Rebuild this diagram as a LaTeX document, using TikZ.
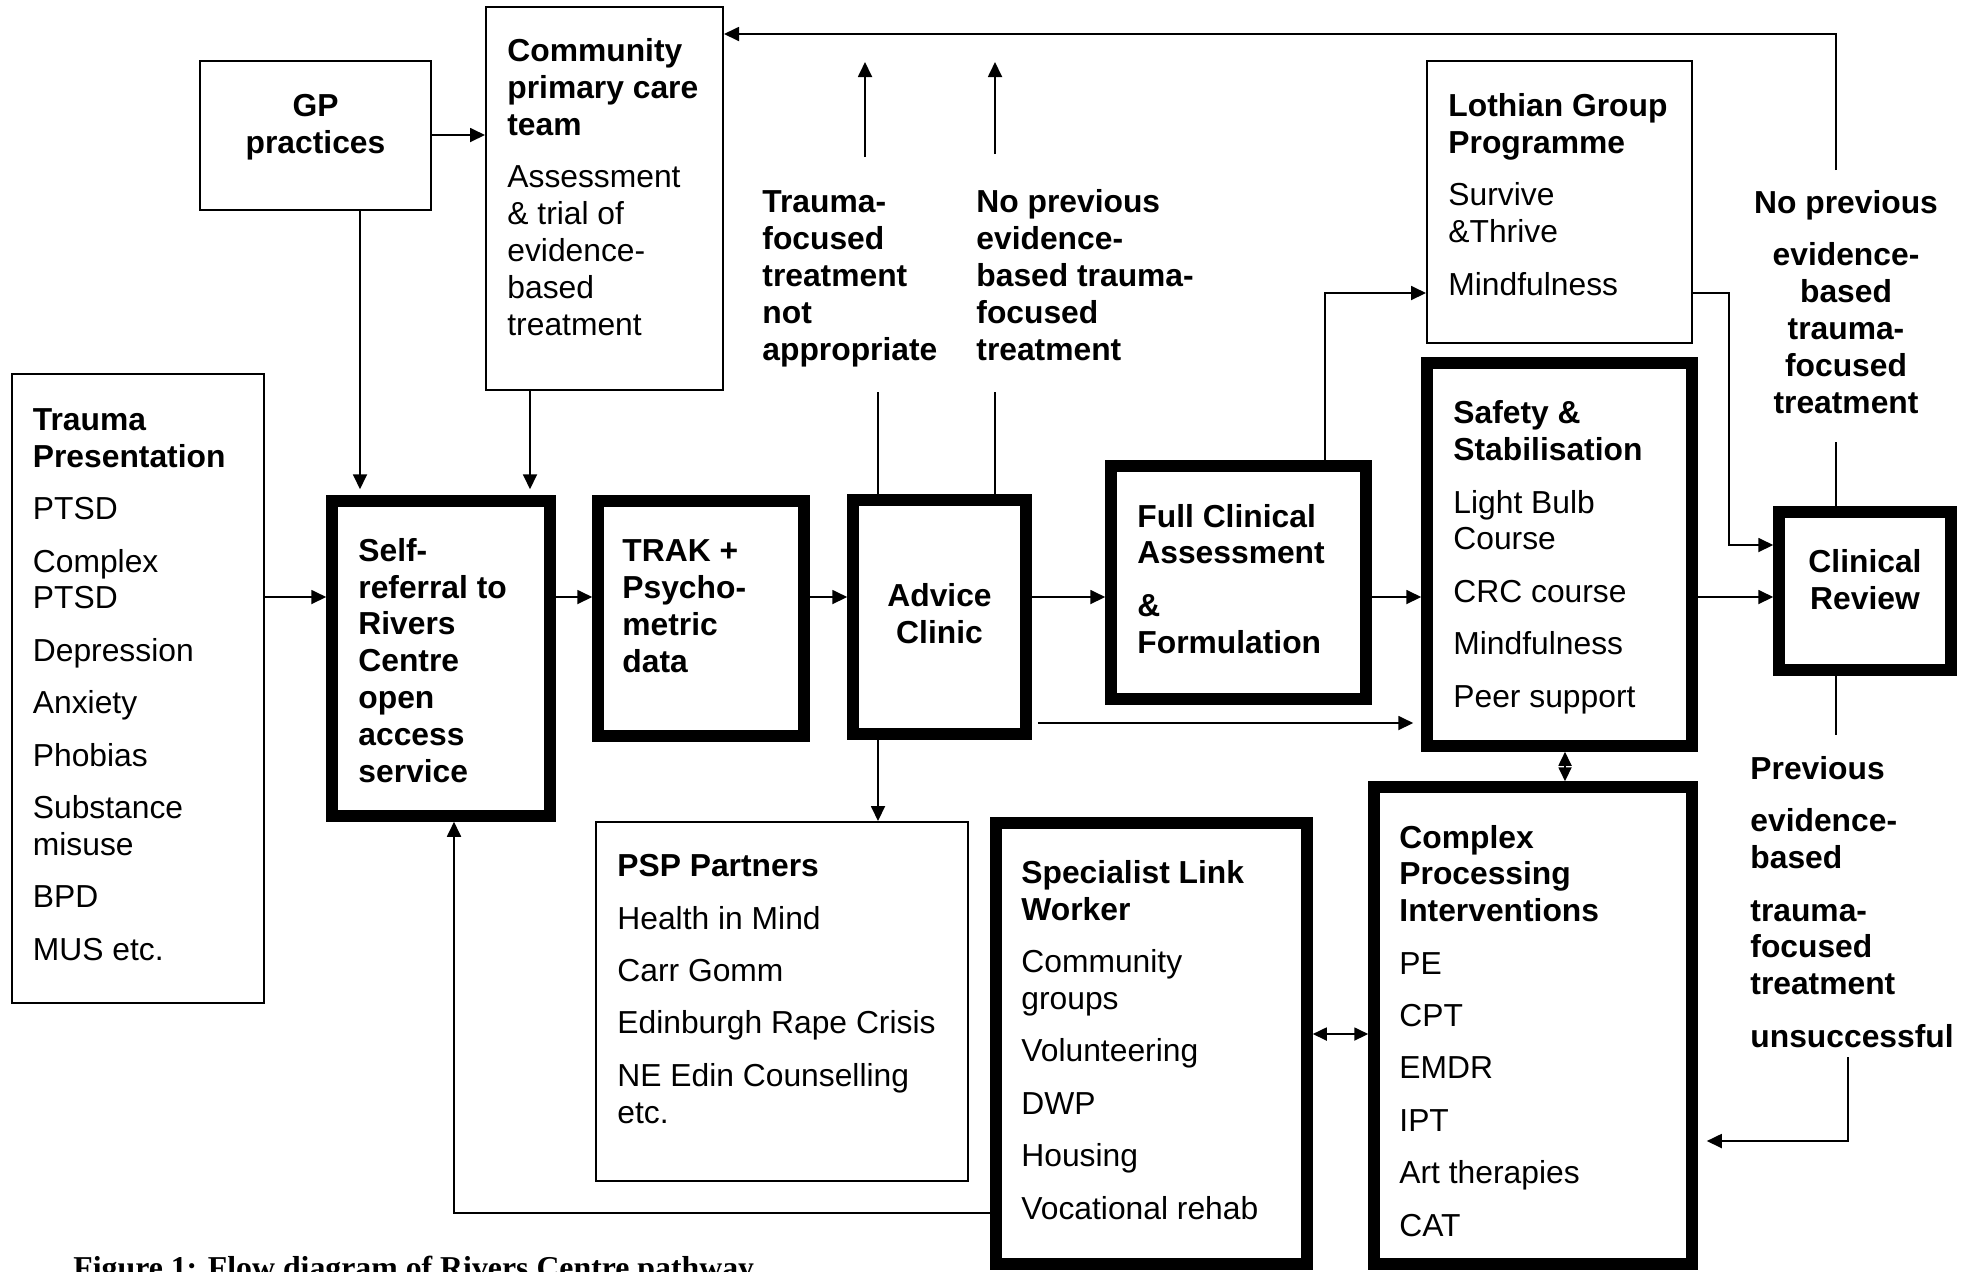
\documentclass[tikz,border=0pt]{standalone}
\usepackage{fontspec}
\setmainfont{Liberation Sans}
\newfontfamily\capfont{Liberation Serif}
\usetikzlibrary{arrows.meta, fit}

\tikzset{
  thinbox/.style={draw, line width=1pt, inner sep=0pt},
  thickbox/.style={draw, line width=5.75pt, inner sep=0pt, outer sep=2.875pt},
  % texts sit on the baseline of their last line
  txt/.style={inner sep=0pt, anchor=base west, align=left,
    font=\fontsize{15.9}{18.4}\selectfont},
  btxt/.style={txt, font=\fontsize{15.9}{18.4}\selectfont\bfseries},
  bctxt/.style={btxt, anchor=base, align=center},
  conn/.style={line width=0.9pt},
  arr/.style={conn, -{Triangle[length=7.5pt, width=7pt]}},
  dblarr/.style={conn, {Triangle[length=7pt, width=6.5pt]}-{Triangle[length=7pt, width=6.5pt]}},
}

\begin{document}
\begin{tikzpicture}[x=0.5pt, y=-0.5pt]
  \useasboundingbox (0,0) rectangle (1969,1271);
  \clip (0,0) rectangle (1969,1271);

  % plain boxes
  \node[thinbox, fit={(11.5,374) (264,1003)}] (trauma) {};
  \node[thinbox, fit={(200,61) (431,210)}] (gp) {};
  \node[thinbox, fit={(486,7) (723,390)}] (cpt) {};
  \node[thinbox, fit={(1427,61) (1692,343)}] (lothian) {};
  \node[thinbox, fit={(596,822) (968,1181)}] (psp) {};
  % heavy boxes (Rivers Centre services)
  \node[thickbox, fit={(332,501) (550,816)}] (self) {};
  \node[thickbox, fit={(598,501) (804,736)}] (trak) {};
  \node[thickbox, fit={(853,500) (1026,734)}] (advice) {};
  \node[thickbox, fit={(1111,466) (1366,699)}] (full) {};
  \node[thickbox, fit={(1427,363) (1692,746)}] (safety) {};
  \node[thickbox, fit={(1779,512) (1951,670)}] (review) {};
  \node[thickbox, fit={(996,823) (1307,1264)}] (slw) {};
  \node[thickbox, fit={(1374,787) (1692,1264)}] (cpi) {};

  % box texts
  \node[txt] (traumatxt) at (32.5,960) {\textbf{Trauma}\\\textbf{Presentation}\\[7.8pt]PTSD\\[7.8pt]Complex\\PTSD\\[7.8pt]Depression\\[7.8pt]Anxiety\\[7.8pt]Phobias\\[7.8pt]Substance\\misuse\\[7.8pt]BPD\\[7.8pt]MUS etc.};
  \node[bctxt] (gptxt) at (315.5,153) {GP\\practices};
  \node[txt] (cpttxt) at (507,335) {\textbf{Community}\\\textbf{primary care}\\\textbf{team}\\[7.8pt]Assessment\\\& trial of\\evidence-\\based\\treatment};
  \node[btxt] (selftxt) at (358,782) {Self-\\referral to\\Rivers\\Centre\\open\\access\\service};
  \node[btxt] (traktxt) at (622,672) {TRAK +\\Psycho-\\metric\\data};
  \node[bctxt] (advicetxt) at (939.5,643) {Advice\\Clinic};
  \node[btxt] (fulltxt) at (1137,653) {Full Clinical\\Assessment\\[7.8pt]\&\\Formulation};
  \node[txt] (lothiantxt) at (1448,295) {\textbf{Lothian Group}\\\textbf{Programme}\\[7.8pt]Survive\\\&Thrive\\[7.8pt]Mindfulness};
  \node[txt] (safetytxt) at (1453,707) {\textbf{Safety \&}\\\textbf{Stabilisation}\\[7.8pt]Light Bulb\\Course\\[7.8pt]CRC course\\[7.8pt]Mindfulness\\[7.8pt]Peer support};
  \node[bctxt] (reviewtxt) at (1865,609) {Clinical\\Review};
  \node[txt] (psptxt) at (617,1123) {\textbf{PSP Partners}\\[7.8pt]Health in Mind\\[7.8pt]Carr Gomm\\[7.8pt]Edinburgh Rape Crisis\\[7.8pt]NE Edin Counselling\\etc.};
  \node[txt] (slwtxt) at (1021,1219) {\textbf{Specialist Link}\\\textbf{Worker}\\[7.8pt]Community\\groups\\[7.8pt]Volunteering\\[7.8pt]DWP\\[7.8pt]Housing\\[7.8pt]Vocational rehab};
  \node[txt] (cpitxt) at (1399,1236) {\textbf{Complex}\\\textbf{Processing}\\\textbf{Interventions}\\[7.8pt]PE\\[7.8pt]CPT\\[7.8pt]EMDR\\[7.8pt]IPT\\[7.8pt]Art therapies\\[7.8pt]CAT};

  % pathway conditions
  \node[btxt] (notapp) at (762,360) {Trauma-\\focused\\treatment\\not\\appropriate};
  \node[btxt] (noprev) at (976,360) {No previous\\evidence-\\based trauma-\\focused\\treatment};
  \node[bctxt] (noprevr) at (1846,413) {No previous\\[7.8pt]evidence-\\based\\trauma-\\focused\\treatment};
  \node[btxt] (prevfail) at (1750,1047) {Previous\\[7.8pt]evidence-\\based\\[7.8pt]trauma-\\focused\\treatment\\[7.8pt]unsuccessful};

  % caption, cut by the page edge
  \node[font=\capfont\bfseries\fontsize{15.9}{18}\selectfont, anchor=base west, inner sep=0pt]
    (caption) at (73,1278) {Figure 1: Flow diagram of Rivers Centre pathway};

  % rows and columns of the connectors
  \coordinate (mainrow) at (0,597);
  \coordinate (gprow) at (0,135);
  \coordinate (lowrow) at (0,723);
  \coordinate (lgrow) at (0,293);
  \coordinate (rvrow) at (0,545);
  \coordinate (toprow) at (0,34);
  \coordinate (backrow) at (0,1141);
  \coordinate (slrow) at (0,1034);
  \coordinate (retrow) at (0,1213);
  \coordinate (gpcol) at (360,0);
  \coordinate (cptcol) at (530,0);
  \coordinate (advcol) at (878,0);
  \coordinate (npcol) at (995,0);
  \coordinate (flcol) at (1325,0);
  \coordinate (lrcol) at (1729,0);
  \coordinate (rvcol) at (1836,0);
  \coordinate (sccol) at (1565,0);
  \coordinate (retcol) at (454,0);
  % free ends
  \coordinate (advup) at (878,392);
  \coordinate (npup) at (995,392);
  \coordinate (tfa) at (865,157);
  \coordinate (tfb) at (865,62);
  \coordinate (npa) at (995,154);
  \coordinate (npb) at (995,62);
  \coordinate (rvup) at (1836,442);
  \coordinate (loopstart) at (1836,170);
  \coordinate (rvdown) at (1836,735);
  \coordinate (failstart) at (1848,1057);

  % main flow
  \draw[arr] (trauma.east |- mainrow) -- (self.west |- mainrow);
  \draw[arr] (self.east |- mainrow) -- (trak.west |- mainrow);
  \draw[arr] (trak.east |- mainrow) -- (advice.west |- mainrow);
  \draw[arr] (advice.east |- mainrow) -- (full.west |- mainrow);
  \draw[arr] (full.east |- mainrow) -- (safety.west |- mainrow);
  \draw[arr] (safety.east |- mainrow) -- (review.west |- mainrow);
  % referrals in
  \draw[arr] (gp.east |- gprow) -- (cpt.west |- gprow);
  \draw[arr, shorten >=3pt] (gp.south -| gpcol) -- (self.north -| gpcol);
  \draw[arr, shorten >=3pt] (cpt.south -| cptcol) -- (self.north -| cptcol);
  % out of the advice clinic
  \draw[conn] (advice.north -| advcol) -- (advup);
  \draw[conn] (advice.north -| npcol) -- (npup);
  \draw[arr] (tfa) -- (tfb);
  \draw[arr] (npa) -- (npb);
  \draw[arr] (advice.south -| advcol) -- (psp.north -| advcol);
  \draw[arr, shorten <=3pt, shorten >=4pt] (advice.east |- lowrow) -- (safety.west |- lowrow);
  % groups and review
  \draw[arr] (full.north -| flcol) |- (lothian.west |- lgrow);
  \draw[arr] (lothian.east |- lgrow) -| (lrcol |- rvrow) -- (review.west |- rvrow);
  \draw[conn] (review.north -| rvcol) -- (rvup);
  \draw[arr] (loopstart) |- (cpt.east |- toprow);
  \draw[conn] (review.south -| rvcol) -- (rvdown);
  \draw[arr, shorten >=4.5pt] (failstart) |- (cpi.east |- backrow);
  % links between services
  \draw[dblarr] (safety.south -| sccol) -- (cpi.north -| sccol);
  \draw[dblarr] (slw.east |- slrow) -- (cpi.west |- slrow);
  \draw[arr] (slw.west |- retrow) -| (self.south -| retcol);
\end{tikzpicture}
\end{document}
